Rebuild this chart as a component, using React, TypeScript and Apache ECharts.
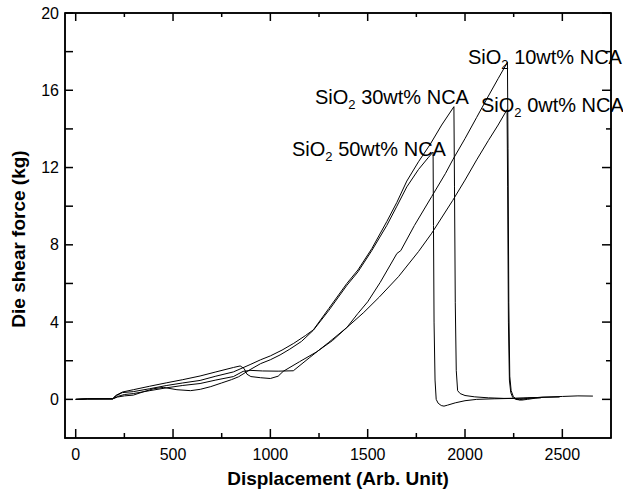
import React, { useEffect, useRef } from 'react';
import * as echarts from 'echarts';

const FONT = '"Liberation Sans", Arial, Helvetica, sans-serif';

// Axis ranges and tick values
const X_MIN = -55;
const X_MAX = 2750;
const Y_MIN = -2;
const Y_MAX = 20;
const X_LABEL_STEP = 500;
const Y_LABEL_STEP = 4;
const xMajorTicks = [0, 500, 1000, 1500, 2000, 2500];
const xMinorTicks = [250, 750, 1250, 1750, 2250];
const yMajorTicks = [0, 4, 8, 12, 16, 20];
const yMinorTicks = [2, 6, 10, 14, 18];

const xTitle = 'Displacement (Arb. Unit)';
const yTitle = 'Die shear force (kg)';

// Series: [displacement, force]
const sio2_50wt: [number, number][] = [
  [0, 0], [60, 0.02], [190, 0.03], [215, 0.12], [250, 0.18], [296, 0.22], [350, 0.4], [400, 0.55],
  [450, 0.62], [520, 0.5], [590, 0.45], [640, 0.52], [694, 0.66], [750, 0.85], [800, 1.02], [837, 1.17],
  [896, 1.54], [950, 1.85], [1000, 2.05], [1050, 2.3], [1100, 2.6], [1160, 3.0], [1221, 3.58],
  [1300, 4.6], [1393, 5.9], [1450, 6.6], [1521, 7.7], [1598, 9.0], [1650, 10.0], [1701, 11.0],
  [1761, 11.9], [1810, 12.5], [1836, 12.8], [1838, 9], [1841, 4], [1846, 1], [1852, 0],
  [1862, -0.2], [1878, -0.32], [1892, -0.35], [1910, -0.3], [1950, -0.18], [2000, -0.07],
  [2060, 0], [2150, 0.03], [2250, 0.05], [2320, 0.08], [2400, 0.1],
];

const sio2_30wt: [number, number][] = [
  [0, 0], [60, 0.03], [190, 0.03], [210, 0.2], [240, 0.35], [296, 0.4], [380, 0.55], [468, 0.72],
  [550, 0.85], [639, 0.98], [720, 1.2], [810, 1.42], [896, 1.8], [950, 2.05], [1000, 2.25],
  [1060, 2.55], [1120, 2.9], [1180, 3.3], [1221, 3.6], [1300, 4.7], [1393, 6.0], [1450, 6.7],
  [1521, 7.8], [1598, 9.2], [1650, 10.2], [1701, 11.3], [1761, 12.3], [1821, 13.2], [1880, 14.2],
  [1943, 15.15], [1946, 11], [1950, 5], [1955, 1.5], [1962, 0.45], [1975, 0.3], [2000, 0.2],
  [2050, 0.13], [2120, 0.08], [2200, 0.05], [2300, 0.06], [2400, 0.1], [2486, 0.12],
];

const sio2_10wt: [number, number][] = [
  [0, 0], [60, 0.02], [190, 0.02], [215, 0.15], [250, 0.25], [296, 0.3], [380, 0.45], [468, 0.6],
  [550, 0.72], [639, 0.82], [720, 1.0], [810, 1.18], [860, 1.45], [900, 1.5], [960, 1.47],
  [1040, 1.46], [1118, 1.48], [1200, 2.15], [1300, 2.95], [1393, 3.72], [1450, 4.45], [1500, 5.05],
  [1564, 6.05], [1650, 7.55], [1670, 7.7], [1740, 9.0], [1829, 10.5], [1900, 11.7], [1937, 12.4],
  [2000, 13.5], [2060, 14.6], [2120, 15.7], [2170, 16.6], [2218, 17.45], [2221, 13], [2225, 5],
  [2230, 1.2], [2237, 0.45], [2248, 0.15], [2262, 0.02], [2280, -0.02], [2320, 0.05], [2400, 0.12],
  [2500, 0.15], [2580, 0.18], [2657, 0.17],
];

const sio2_0wt: [number, number][] = [
  [0, 0], [60, 0.03], [190, 0.03], [205, 0.2], [240, 0.38], [296, 0.5], [380, 0.68], [468, 0.86],
  [550, 1.02], [639, 1.21], [720, 1.42], [810, 1.65], [845, 1.73], [865, 1.6], [880, 1.3],
  [900, 1.18], [950, 1.12], [1000, 1.08], [1040, 1.2], [1066, 1.45], [1150, 1.95], [1238, 2.46],
  [1320, 3.05], [1393, 3.72], [1480, 4.5], [1560, 5.3], [1658, 6.35], [1761, 7.65], [1829, 8.6],
  [1937, 10.3], [2000, 11.35], [2060, 12.4], [2120, 13.4], [2170, 14.2], [2216, 15.0], [2219, 11],
  [2223, 4], [2228, 1], [2235, 0.35], [2245, 0.1], [2260, 0.0], [2290, -0.04], [2320, 0.0],
  [2360, 0.06], [2390, 0.08],
];

const seriesNames = ['SiO2 50wt% NCA', 'SiO2 30wt% NCA', 'SiO2 10wt% NCA', 'SiO2 0wt% NCA'];
const labelRest = [' 50wt% NCA', ' 30wt% NCA', ' 10wt% NCA', ' 0wt% NCA'];

// Grid geometry (px) used to turn tick lengths into axis units
const GRID = { left: 65, right: 12, top: 13, bottom: 56 };
const W = 623;
const H = 494;

function measure(text: string, size: number): number {
  const c = document.createElement('canvas').getContext('2d');
  if (!c) return text.length * size * 0.55;
  c.font = size + 'px ' + FONT;
  return c.measureText(text).width;
}

function mkLabel(rest: string, x: number, y: number): any[] {
  const wMain = measure('SiO', 20);
  const wSub = measure('2', 13);
  return [
    { type: 'text', x, y, style: { text: 'SiO', fill: '#000', fontFamily: FONT, fontSize: 20, verticalAlign: 'middle', align: 'left' } },
    { type: 'text', x: x + wMain, y: y + 7, style: { text: '2', fill: '#000', fontFamily: FONT, fontSize: 13, verticalAlign: 'middle', align: 'left' } },
    { type: 'text', x: x + wMain + wSub, y, style: { text: rest, fill: '#000', fontFamily: FONT, fontSize: 20, verticalAlign: 'middle', align: 'left' } },
  ];
}

function segSeries(points: [number, number][]) {
  return {
    type: 'line',
    data: points,
    showSymbol: false,
    symbol: 'none',
    clip: false,
    z: 5,
    lineStyle: { color: '#000', width: 1.5 },
    tooltip: { show: false },
  };
}

export default function App() {
  const ref = useRef<HTMLDivElement>(null);
  useEffect(() => {
    document.body.style.margin = '0';
    if (!ref.current) return;
    const chart = echarts.init(ref.current, null, { renderer: 'svg' });
    const allData = [sio2_50wt, sio2_30wt, sio2_10wt, sio2_0wt];

    // px -> axis units for tick lengths
    const yPerPx = (Y_MAX - Y_MIN) / (H - GRID.top - GRID.bottom);
    const xPerPx = (X_MAX - X_MIN) / (W - GRID.left - GRID.right);
    const tickSeries: any[] = [];
    xMajorTicks.forEach((v) => {
      tickSeries.push(segSeries([[v, Y_MIN], [v, Y_MIN + 9 * yPerPx]]));
      tickSeries.push(segSeries([[v, Y_MAX], [v, Y_MAX - 8 * yPerPx]]));
    });
    xMinorTicks.forEach((v) => {
      tickSeries.push(segSeries([[v, Y_MIN], [v, Y_MIN + 5 * yPerPx]]));
      tickSeries.push(segSeries([[v, Y_MAX], [v, Y_MAX - 4 * yPerPx]]));
    });
    yMajorTicks.forEach((v) => {
      tickSeries.push(segSeries([[X_MIN, v], [X_MIN + 8 * xPerPx, v]]));
      tickSeries.push(segSeries([[X_MAX, v], [X_MAX - 9 * xPerPx, v]]));
    });
    yMinorTicks.forEach((v) => {
      tickSeries.push(segSeries([[X_MIN, v], [X_MIN + 8 * xPerPx, v]]));
      tickSeries.push(segSeries([[X_MAX, v], [X_MAX - 5 * xPerPx, v]]));
    });
    // top and right frame
    tickSeries.push(segSeries([[X_MIN, Y_MAX], [X_MAX, Y_MAX], [X_MAX, Y_MIN]]));

    chart.setOption({
      animation: false,
      backgroundColor: '#fff',
      grid: {
        left: GRID.left, right: GRID.right, top: GRID.top, bottom: GRID.bottom,
        show: true, borderColor: '#000', borderWidth: 1.5,
      },
      xAxis: {
        type: 'value',
        min: X_MIN,
        max: X_MAX,
        splitNumber: 5,
        axisLine: { show: true, onZero: false, lineStyle: { color: '#000', width: 1.5 } },
        axisTick: { show: false },
        axisLabel: {
          show: true,
          formatter: (v: number) => (v >= 0 && v % X_LABEL_STEP === 0 ? String(v) : ''),
          fontFamily: FONT,
          fontSize: 16,
          color: '#000',
          margin: 8,
        },
        splitLine: { show: false },
      },
      yAxis: {
        type: 'value',
        min: Y_MIN,
        max: Y_MAX,
        interval: 2,
        axisLine: { show: true, onZero: false, lineStyle: { color: '#000', width: 1.5 } },
        axisTick: { show: false },
        axisLabel: {
          show: true,
          formatter: (v: number) => (v >= 0 && v % Y_LABEL_STEP === 0 ? String(v) : ''),
          fontFamily: FONT,
          fontSize: 16,
          color: '#000',
          margin: 6,
        },
        splitLine: { show: false },
      },
      series: [
        ...allData.map((d, i) => ({
          name: seriesNames[i],
          type: 'line',
          data: d,
          showSymbol: false,
          lineStyle: { color: '#000', width: 1 },
        })),
        ...tickSeries,
      ],
      graphic: [
        ...mkLabel(labelRest[2], 468, 57),
        ...mkLabel(labelRest[3], 481, 105),
        ...mkLabel(labelRest[1], 315, 97),
        ...mkLabel(labelRest[0], 292, 149),
        {
          type: 'text',
          x: 338,
          y: 478,
          style: { text: xTitle, fill: '#000', fontFamily: FONT, fontSize: 19, fontWeight: 'bold', align: 'center', verticalAlign: 'middle' },
        },
        {
          type: 'text',
          x: 18,
          y: 239,
          rotation: Math.PI / 2,
          style: { text: yTitle, fill: '#000', fontFamily: FONT, fontSize: 19, fontWeight: 'bold', align: 'center', verticalAlign: 'middle' },
        },
      ],
    });
    return () => chart.dispose();
  }, []);
  return <div ref={ref} style={{ width: 623, height: 494 }} />;
}
